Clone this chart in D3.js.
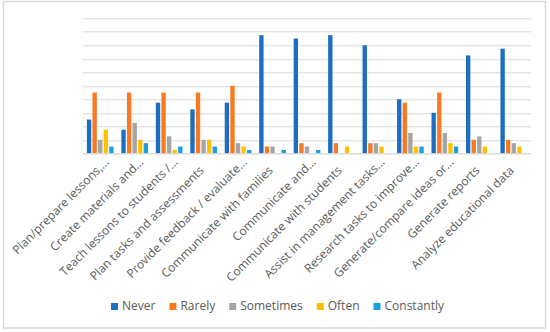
<!DOCTYPE html>
<html>
<head>
<meta charset="utf-8">
<script src="https://cdn.jsdelivr.net/npm/d3@7"></script>
<style>
  html, body { margin: 0; padding: 0; background: #fff; }
  svg { display: block; }
</style>
</head>
<body>
<svg id="chart" width="550" height="332"></svg>
<script>
const categories = [
  "Plan/prepare lessons,…",
  "Create materials and…",
  "Teach lessons to students /…",
  "Plan tasks and assessments",
  "Provide feedback / evaluate…",
  "Communicate with families",
  "Communicate and…",
  "Communicate with students",
  "Assist in management tasks…",
  "Research tasks to improve…",
  "Generate/compare ideas or…",
  "Generate reports",
  "Analyze educational data"
];
const seriesNames = ["Never", "Rarely", "Sometimes", "Often", "Constantly"];
const never      = [10,  7, 15, 13, 15, 35, 34, 35, 32, 16, 12, 29, 31];
const rarely     = [18, 18, 18, 18, 20,  2,  3,  3,  3, 15, 18,  4,  4];
const sometimes  = [ 4,  9,  5,  4,  3,  2,  2,  0,  3,  6,  6,  5,  3];
const often      = [ 7,  4,  1,  4,  2,  0,  0,  2,  2,  2,  3,  2,  2];
const constantly = [ 2,  3,  2,  2,  1,  1,  1,  0,  0,  2,  2,  0,  0];
const yTicks = [0, 4, 8, 12, 16, 20, 24, 28, 32, 36, 40];
const colors = ["#1b6ec2", "#f97a22", "#a5a5a5", "#ffc000", "#1a9fe0"];

const seriesValues = [never, rarely, sometimes, often, constantly];

const svg = d3.select("#chart");
const W = 550, H = 332;
const margin = { left: 83, right: 19, top: 18.3, bottom: 178.7 };
const plotW = W - margin.left - margin.right;
const plotH = H - margin.top - margin.bottom;
const font = "'Open Sans', 'Noto Sans', sans-serif";

// chart border
svg.append("rect")
  .attr("x", 3.5).attr("y", 1.5)
  .attr("width", 542).attr("height", 326.5)
  .attr("fill", "#fff").attr("stroke", "#d9d9d9").attr("stroke-width", 1.5);

const g = svg.append("g").attr("transform", `translate(${margin.left},${margin.top})`);

const x0 = d3.scaleBand().domain(categories).range([0, plotW]).paddingInner(0.226).paddingOuter(0.113);
const x1 = d3.scaleBand().domain(seriesNames).range([0, x0.bandwidth()]).paddingInner(0.22);
const y = d3.scaleLinear().domain([0, 40]).range([plotH, 0]);

// gridlines
g.append("g")
  .selectAll("line")
  .data(yTicks)
  .join("line")
  .attr("x1", 0).attr("x2", plotW)
  .attr("y1", d => Math.round(y(d)) + 0.5).attr("y2", d => Math.round(y(d)) + 0.5)
  .attr("stroke", "#d9d9d9").attr("stroke-width", 1);

// bars
const groups = g.append("g").selectAll("g")
  .data(categories.map((c, i) => ({ c, vals: seriesValues.map((s, k) => ({ name: seriesNames[k], v: s[i], k })) })))
  .join("g")
  .attr("transform", d => `translate(${x0(d.c)},0)`);

groups.selectAll("rect")
  .data(d => d.vals)
  .join("rect")
  .attr("x", d => x1(d.name))
  .attr("width", x1.bandwidth())
  .attr("y", d => y(d.v))
  .attr("height", d => plotH - y(d.v))
  .attr("fill", d => colors[d.k]);

// baseline
g.append("line")
  .attr("x1", 0).attr("x2", plotW)
  .attr("y1", Math.round(plotH) + 0.5).attr("y2", Math.round(plotH) + 0.5)
  .attr("stroke", "#d9d9d9");

// x axis labels
const xAxis = d3.axisBottom(x0).tickSize(0).tickPadding(0);
const ax = g.append("g").attr("transform", `translate(0,${plotH})`).call(xAxis);
ax.select(".domain").remove();
ax.selectAll(".tick text")
  .attr("font-family", font)
  .attr("font-size", "12px")
  .attr("fill", "#595959")
  .attr("text-anchor", "end")
  .attr("dy", "0")
  .attr("y", 0)
  .attr("x", d => d.endsWith("…") ? 12 : 0)
  .attr("transform", "translate(1,18) rotate(-45)");

// legend
const legend = svg.append("g").attr("font-family", font).attr("font-size", "12px");
const items = [];
seriesNames.forEach((n, i) => {
  const it = legend.append("g");
  it.append("rect").attr("x", 0).attr("y", -7).attr("width", 7).attr("height", 7).attr("fill", colors[i]);
  const t = it.append("text").attr("x", 11).attr("y", 0).attr("fill", "#595959").text(n);
  const w = 11 + t.node().getComputedTextLength();
  items.push({ it, w });
});
const gap = 14;
const total = d3.sum(items, d => d.w) + gap * (items.length - 1);
let cx = 277.5 - total / 2;
items.forEach(d => { d.it.attr("transform", `translate(${cx},310)`); cx += d.w + gap; });
</script>
</body>
</html>
